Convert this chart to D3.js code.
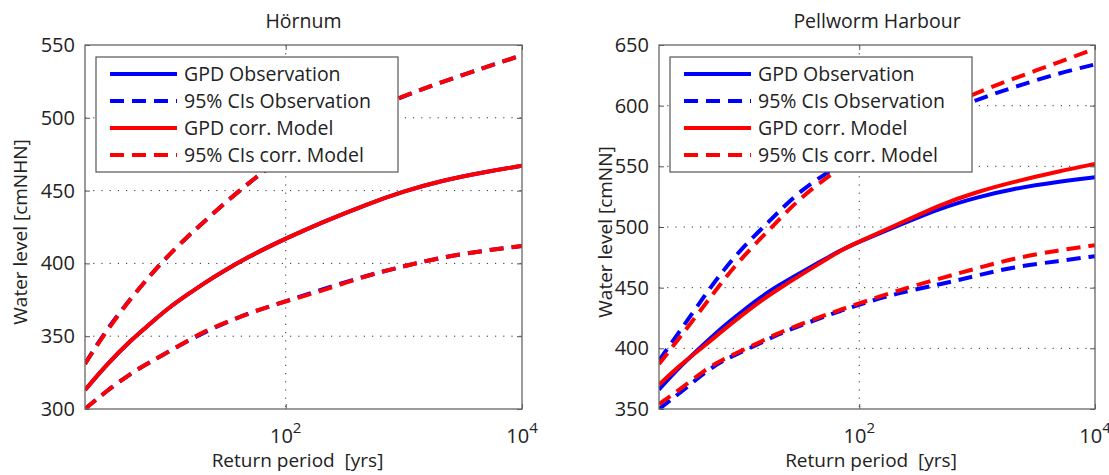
<!DOCTYPE html>
<html>
<head>
<meta charset="utf-8">
<script src="https://cdn.jsdelivr.net/npm/d3@7"></script>
<style>
  body { margin: 0; background: #fff; }
  text { font-family: "Open Sans", sans-serif; fill: #222; }
</style>
</head>
<body>
<script>
var periods = [2, 3, 5, 7, 10, 15, 20, 30, 50, 70, 100, 200, 500, 1000, 2000, 5000, 10000];

// Hoernum
var hoernumObs     = [313, 330, 348, 358, 369, 379, 386, 395, 405, 411, 417, 428, 441, 449.5, 456.5, 463, 467];
var hoernumObsLo   = [300, 312, 325, 332, 339, 347, 352, 359, 366, 370, 374, 382, 392, 398, 404, 409, 412];
var hoernumObsHi   = [331, 354, 377, 391, 405, 419, 428, 441, 456, 465, 474, 488, 504, 515, 524, 535, 543];
var hoernumMod     = [313, 330, 348, 358, 369, 379, 386, 395, 405, 411, 417, 428, 441, 449.5, 456.5, 463, 467];
var hoernumModLo   = [300, 312, 325, 332, 339, 347, 353, 359, 366, 370, 374, 381, 392, 398, 404, 409, 412];
var hoernumModHi   = [331, 353, 377, 391, 405, 419, 428, 441, 456, 465, 475, 488, 505, 515, 524, 535, 543];

// Pellworm Harbour
var pellwormObs    = [366, 385, 405, 418, 430, 443, 451, 461, 473, 481, 488, 500, 516, 524.5, 531.5, 537.5, 541];
var pellwormObsLo  = [350, 363, 381, 390, 397, 405, 411, 418, 426, 431, 436, 445, 453, 460, 467, 472, 476];
var pellwormObsHi  = [390, 414, 445, 464, 482, 499, 511, 528, 543, 552, 561, 576, 593, 605, 615, 627, 634];
var pellwormMod    = [370, 386, 403, 415, 427, 440, 448, 459, 472, 481, 488, 501, 519, 529, 537, 546, 552];
var pellwormModLo  = [354, 366, 383, 391, 398, 406, 412, 419, 427, 432, 437, 447, 458, 466, 474, 481, 485];
var pellwormModHi  = [387, 409, 437, 456, 474, 492, 504, 522, 539, 549, 559, 577, 597, 611, 622, 636, 647];

var xTicks = [100, 10000];
var xTickExp = ["2", "4"];
var legendLabels = ["GPD Observation", "95% CIs Observation", "GPD corr. Model", "95% CIs corr. Model"];

var panels = [
  { title: "Hörnum", ylabel: "Water level [cmNHN]", yDomain: [300, 550], yTicks: [300, 350, 400, 450, 500, 550],
    left: 85, right: 522, ylabelX: 27,
    series: [hoernumObs, hoernumObsLo, hoernumObsHi, hoernumMod, hoernumModLo, hoernumModHi] },
  { title: "Pellworm Harbour", ylabel: "Water level [cmNN]", yDomain: [350, 650], yTicks: [350, 400, 450, 500, 550, 600, 650],
    left: 659, right: 1095, ylabelX: 612,
    series: [pellwormObs, pellwormObsLo, pellwormObsHi, pellwormMod, pellwormModLo, pellwormModHi] }
];

var width = 1109, height = 475;
var plotTop = 45, plotBottom = 409;
var blue = "#0000ff", red = "#ff0000";
var dash = "14,8";

var svg = d3.select("body").append("svg")
    .attr("width", width)
    .attr("height", height);

panels.forEach(function (p, pi) {
  var x = d3.scaleLog().domain([2, 10000]).range([p.left, p.right]);
  var y = d3.scaleLinear().domain(p.yDomain).range([plotBottom, plotTop]);
  var g = svg.append("g");
  var w = p.right - p.left;

  g.append("clipPath").attr("id", "clip" + pi)
    .append("rect").attr("x", p.left).attr("y", plotTop).attr("width", w).attr("height", plotBottom - plotTop);

  // dotted grid
  g.selectAll(".hgrid").data(p.yTicks.slice(1, -1)).enter()
    .append("line")
    .attr("x1", p.left).attr("x2", p.right)
    .attr("y1", d => y(d)).attr("y2", d => y(d))
    .attr("stroke", "#333").attr("stroke-width", 1).attr("stroke-dasharray", "1.2,7");
  g.append("line")
    .attr("x1", x(100)).attr("x2", x(100))
    .attr("y1", plotTop).attr("y2", plotBottom)
    .attr("stroke", "#333").attr("stroke-width", 1).attr("stroke-dasharray", "1.2,7");

  // curves
  var line = d3.line()
    .x((d, i) => x(periods[i]))
    .y(d => y(d))
    .curve(d3.curveBasis);

  var styles = [
    { c: blue, d: null }, { c: blue, d: dash }, { c: blue, d: dash },
    { c: red, d: null }, { c: red, d: dash }, { c: red, d: dash }
  ];
  var curves = g.append("g").attr("clip-path", "url(#clip" + pi + ")");
  p.series.forEach(function (s, si) {
    curves.append("path")
      .attr("d", line(s))
      .attr("fill", "none")
      .attr("stroke", styles[si].c)
      .attr("stroke-width", 4)
      .attr("stroke-dasharray", styles[si].d);
  });

  // axes box + inward ticks
  var yAxisL = d3.axisLeft(y).tickValues(p.yTicks).tickSizeInner(-5).tickSizeOuter(0).tickPadding(10);
  var yAxisR = d3.axisRight(y).tickValues(p.yTicks).tickSizeInner(-5).tickSizeOuter(0).tickFormat("");
  var xAxisB = d3.axisBottom(x).tickValues(xTicks).tickSizeInner(-5).tickSizeOuter(0).tickFormat("");
  var xAxisT = d3.axisTop(x).tickValues(xTicks).tickSizeInner(-5).tickSizeOuter(0).tickFormat("");

  var ay = g.append("g").attr("transform", "translate(" + p.left + ",0)").call(yAxisL);
  ay.selectAll("text").attr("font-size", 20).attr("fill", "#222").attr("font-family", "Open Sans, sans-serif");
  g.append("g").attr("transform", "translate(" + p.right + ",0)").call(yAxisR);
  g.append("g").attr("transform", "translate(0," + plotBottom + ")").call(xAxisB);
  g.append("g").attr("transform", "translate(0," + plotTop + ")").call(xAxisT);
  g.selectAll(".domain").remove();
  g.selectAll(".tick line").attr("stroke", "#555");

  g.append("rect")
    .attr("x", p.left).attr("y", plotTop).attr("width", w).attr("height", plotBottom - plotTop)
    .attr("fill", "none").attr("stroke", "#666").attr("stroke-width", 1.3);

  // x tick labels as 10^n
  xTicks.forEach(function (v, i) {
    var t = g.append("text")
      .attr("x", x(v)).attr("y", 443)
      .attr("text-anchor", "middle")
      .attr("font-size", 20);
    t.append("tspan").text("10");
    t.append("tspan").attr("dy", -10).attr("font-size", 15).text(xTickExp[i]);
  });

  // legend
  var lx = p.left + 11, ly = 57, lw = 302, lh = 115;
  var lg = g.append("g");
  lg.append("rect").attr("x", lx).attr("y", ly).attr("width", lw).attr("height", lh)
    .attr("fill", "#fff").attr("stroke", "#555").attr("stroke-width", 1.2);
  var legStyles = [styles[0], styles[1], styles[3], styles[4]];
  legendLabels.forEach(function (lab, i) {
    var yy = ly + 17 + i * 27;
    lg.append("line")
      .attr("x1", lx + 14).attr("x2", lx + 81)
      .attr("y1", yy).attr("y2", yy)
      .attr("stroke", legStyles[i].c).attr("stroke-width", 4)
      .attr("stroke-dasharray", legStyles[i].d);
    lg.append("text")
      .attr("x", lx + 88).attr("y", yy + 7)
      .attr("font-size", 19.5)
      .text(lab);
  });

  // titles and labels
  g.append("text")
    .attr("x", (p.left + p.right) / 2).attr("y", 28)
    .attr("text-anchor", "middle").attr("font-size", 19.5)
    .text(p.title);
  g.append("text")
    .attr("x", (p.left + p.right) / 2 - 6).attr("y", 467)
    .attr("text-anchor", "middle").attr("font-size", 19)
    .attr("xml:space", "preserve")
    .text("Return period  [yrs]");
  g.append("text")
    .attr("transform", "translate(" + p.ylabelX + "," + ((plotTop + plotBottom) / 2 + 5) + ") rotate(-90)")
    .attr("text-anchor", "middle").attr("font-size", 19)
    .text(p.ylabel);
});
</script>
</body>
</html>
